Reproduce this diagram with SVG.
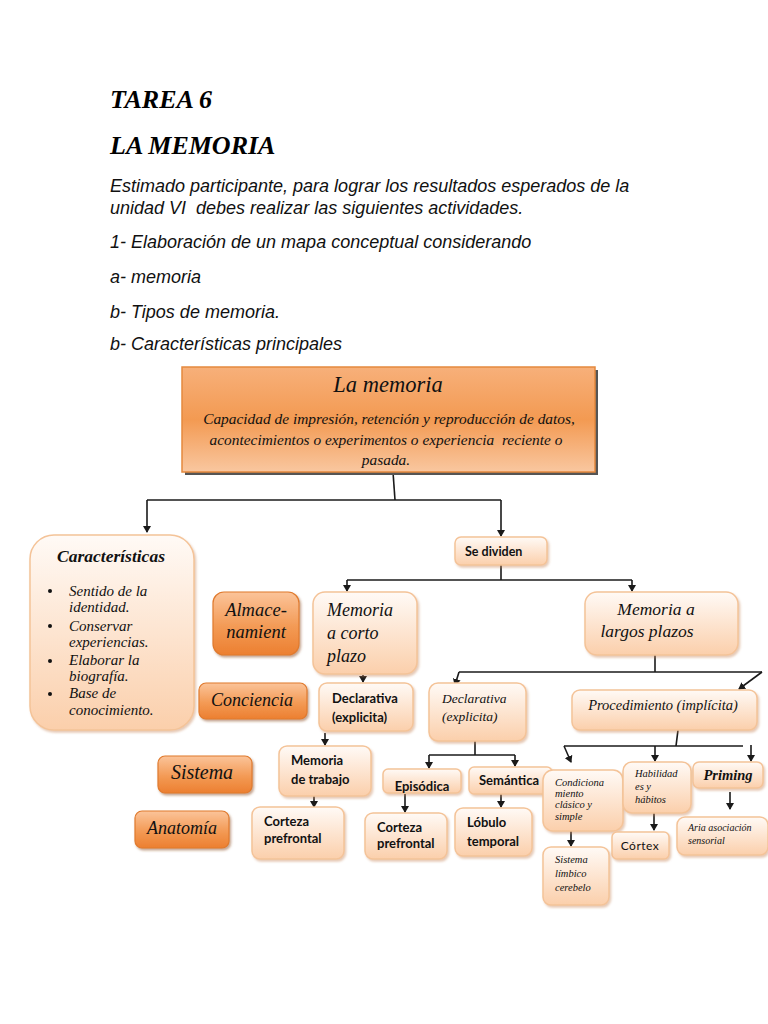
<svg xmlns="http://www.w3.org/2000/svg" width="768" height="1024" viewBox="0 0 768 1024">
<style>
.hd{font-family:"Liberation Serif",serif;font-weight:bold;font-style:italic;font-size:26px;fill:#000}
.it{font-family:"Liberation Sans",Arial,sans-serif;font-style:italic;font-size:18px;fill:#111}
.si{font-family:"Liberation Serif",serif;font-style:italic;fill:#111}
.sb{font-family:Lato,"Open Sans",sans-serif;font-weight:bold;fill:#111}
.peach{fill:url(#gPeach);stroke:#f4c398;stroke-width:1.5;filter:url(#sh)}
.orange{fill:url(#gOrange);stroke:#e07a2e;stroke-width:1.2;filter:url(#sh2)}
.ln{fill:none;stroke:#1a1a1a;stroke-width:1.6}
.ar{fill:none;stroke:#1a1a1a;stroke-width:1.6;marker-end:url(#ah)}
</style>
<defs>
<linearGradient id="gPeach" x1="0" y1="0" x2="0" y2="1">
<stop offset="0" stop-color="#fffaf6"/><stop offset="1" stop-color="#fbcfab"/>
</linearGradient>
<linearGradient id="gOrange" x1="0" y1="0" x2="0" y2="1">
<stop offset="0" stop-color="#fbc49a"/><stop offset="0.55" stop-color="#f39a55"/><stop offset="1" stop-color="#ec7f30"/>
</linearGradient>
<linearGradient id="gMain" x1="0" y1="0" x2="0" y2="1">
<stop offset="0" stop-color="#f7b07a"/><stop offset="0.5" stop-color="#f39a52"/><stop offset="1" stop-color="#f9c7a0"/>
</linearGradient>
<filter id="sh" x="-10%" y="-10%" width="125%" height="130%">
<feDropShadow dx="1.5" dy="2" stdDeviation="1.2" flood-color="#c8875a" flood-opacity="0.45"/>
</filter>
<filter id="sh2" x="-10%" y="-10%" width="125%" height="130%">
<feDropShadow dx="1.5" dy="2" stdDeviation="1" flood-color="#8a4a1a" flood-opacity="0.5"/>
</filter>
<marker id="ah" markerWidth="8" markerHeight="8" refX="6" refY="4" orient="auto" markerUnits="userSpaceOnUse" viewBox="0 0 8 8">
<path d="M0,0 L7,4 L0,8 Z" fill="#1a1a1a"/>
</marker>
<clipPath id="cEp"><rect x="383" y="769" width="78" height="24"/></clipPath>
</defs>

<g id="header">
<text class="hd" x="110" y="108">TAREA 6</text>
<text class="hd" x="110" y="154">LA MEMORIA</text>
<text class="it" x="110" y="192">Estimado participante, para lograr los resultados esperados de la</text>
<text class="it" x="110" y="214" xml:space="preserve">unidad VI  debes realizar las siguientes actividades.</text>
<text class="it" x="110" y="248">1- Elaboración de un mapa conceptual considerando</text>
<text class="it" x="110" y="283">a- memoria</text>
<text class="it" x="110" y="318">b- Tipos de memoria.</text>
<text class="it" x="110" y="350">b- Características principales</text>
</g>

<g id="connectors">
<polyline class="ln" points="393,472 395,500"/>
<polyline class="ar" points="147,500 147,532"/>
<polyline class="ln" points="147,500 501,500"/>
<polyline class="ar" points="501,500 501,536"/>
<polyline class="ln" points="501,565 501,580"/>
<polyline class="ln" points="347,580 632,580"/>
<polyline class="ar" points="347,580 347,591"/>
<polyline class="ar" points="632,580 632,591"/>
<polyline class="ln" points="655,655 655,672"/>
<polyline class="ln" points="459,672 762,672"/>
<polyline class="ar" points="459,672 455,685"/>
<polyline class="ar" points="762,672 739,689"/>
<polyline class="ar" points="363,675 363,682"/>
<polyline class="ar" points="325,733 325,745"/>
<polyline class="ar" points="314,796 314,807"/>
<polyline class="ln" points="475,741 475,755"/>
<polyline class="ln" points="429,755 515,755"/>
<polyline class="ar" points="429,755 429,768"/>
<polyline class="ar" points="515,755 515,766"/>
<polyline class="ar" points="405,794 405,812"/>
<polyline class="ar" points="501,794 501,807"/>
<polyline class="ln" points="678,730 676,746"/>
<polyline class="ln" points="564,746 743,746"/>
<polyline class="ar" points="564,746 571,762"/>
<polyline class="ar" points="655,746 655,761"/>
<polyline class="ar" points="751,745 751,761"/>
<polyline class="ar" points="730,792 730,809"/>
<polyline class="ar" points="654,813 654,830"/>
<polyline class="ar" points="571,831 571,846"/>
</g>

<g id="n-main">
<rect x="185" y="370" width="413" height="105" fill="#555"/>
<rect x="182" y="367" width="413" height="105" fill="url(#gMain)" stroke="#e5893e" stroke-width="1.5"/>
<text class="si" x="388" y="392" font-size="22.5" text-anchor="middle">La memoria</text>
<text class="si" x="389" y="424" font-size="15.4" text-anchor="middle">Capacidad de impresión, retención y reproducción de datos,</text>
<text class="si" x="386" y="445" font-size="15.4" text-anchor="middle" xml:space="preserve">acontecimientos o experimentos o experiencia  reciente o</text>
<text class="si" x="386" y="465" font-size="15.4" text-anchor="middle">pasada.</text>
</g>

<g id="n-caracteristicas">
<rect class="peach" x="30" y="535" width="164" height="195" rx="24"/>
<text class="si" x="111" y="562" font-size="17.5" font-weight="bold" text-anchor="middle">Características</text>
<g class="si" font-size="15">
<circle cx="50" cy="591" r="2" fill="#111"/><text x="69" y="596">Sentido de la</text>
<text x="69" y="612">identidad.</text>
<circle cx="50" cy="626" r="2" fill="#111"/><text x="69" y="631">Conservar</text>
<text x="69" y="647">experiencias.</text>
<circle cx="50" cy="661" r="2" fill="#111"/><text x="69" y="665">Elaborar la</text>
<text x="69" y="681">biografía.</text>
<circle cx="50" cy="694" r="2" fill="#111"/><text x="69" y="698">Base de</text>
<text x="69" y="715">conocimiento.</text>
</g>
</g>

<g id="n-sedividen">
<rect class="peach" x="455" y="537" width="92" height="28" rx="6"/>
<text class="sb" x="465" y="556" font-size="12.5">Se dividen</text>
</g>

<g id="n-almacenamiento">
<rect class="orange" x="213" y="592" width="86" height="63" rx="11"/>
<text class="si" x="256" y="616" font-size="18.5" text-anchor="middle">Almace-</text>
<text class="si" x="256" y="638" font-size="18.5" text-anchor="middle">namient</text>
</g>
<g id="n-conciencia">
<rect class="orange" x="199" y="683" width="108" height="36" rx="7"/>
<text class="si" x="252" y="706" font-size="18" text-anchor="middle">Conciencia</text>
</g>
<g id="n-sistema">
<rect class="orange" x="158" y="756" width="94" height="37" rx="7"/>
<text class="si" x="202" y="779" font-size="20" text-anchor="middle">Sistema</text>
</g>
<g id="n-anatomia">
<rect class="orange" x="135" y="811" width="94" height="37" rx="7"/>
<text class="si" x="182" y="834" font-size="18" text-anchor="middle">Anatomía</text>
</g>

<g id="n-corto">
<rect class="peach" x="313" y="592" width="104" height="82" rx="12"/>
<text class="si" x="327" y="616" font-size="18">Memoria</text>
<text class="si" x="327" y="639" font-size="18">a corto</text>
<text class="si" x="327" y="662" font-size="18">plazo</text>
</g>
<g id="n-largos">
<rect class="peach" x="585" y="592" width="153" height="63" rx="12"/>
<text class="si" x="656" y="615" font-size="17.5" text-anchor="middle">Memoria a</text>
<text class="si" x="647" y="637" font-size="17.5" text-anchor="middle">largos plazos</text>
</g>

<g id="n-decl1">
<rect class="peach" x="319" y="683" width="94" height="48" rx="8"/>
<text class="sb" x="332" y="703" font-size="13">Declarativa</text>
<text class="sb" x="332" y="722" font-size="13">(explicita)</text>
</g>
<g id="n-trabajo">
<rect class="peach" x="279" y="746" width="92" height="50" rx="8"/>
<text class="sb" x="291" y="765" font-size="13">Memoria</text>
<text class="sb" x="291" y="784" font-size="13">de trabajo</text>
</g>
<g id="n-corteza1">
<rect class="peach" x="252" y="807" width="92" height="52" rx="8"/>
<text class="sb" x="264" y="826" font-size="13">Corteza</text>
<text class="sb" x="264" y="843" font-size="13">prefrontal</text>
</g>

<g id="n-decl2">
<rect class="peach" x="429" y="683" width="97" height="58" rx="9"/>
<text class="si" x="442" y="703" font-size="13.5">Declarativa</text>
<text class="si" x="442" y="721" font-size="13.5">(explicita)</text>
</g>
<g id="n-episodica">
<rect class="peach" x="383" y="769" width="78" height="24" rx="5"/>
<text class="sb" x="422" y="791" font-size="13" text-anchor="middle" clip-path="url(#cEp)">Episódica</text>
</g>
<g id="n-semantica">
<rect class="peach" x="469" y="767" width="83" height="27" rx="5"/>
<text class="sb" x="479" y="785" font-size="13">Semántica</text>
</g>
<g id="n-corteza2">
<rect class="peach" x="365" y="813" width="82" height="46" rx="8"/>
<text class="sb" x="377" y="832" font-size="13">Corteza</text>
<text class="sb" x="377" y="848" font-size="13">prefrontal</text>
</g>
<g id="n-lobulo">
<rect class="peach" x="455" y="808" width="77" height="48" rx="8"/>
<text class="sb" x="467" y="827" font-size="13">Lóbulo</text>
<text class="sb" x="467" y="846" font-size="13">temporal</text>
</g>

<g id="n-proc">
<rect class="peach" x="572" y="690" width="185" height="40" rx="8"/>
<text class="si" x="663" y="710" font-size="14.5" text-anchor="middle">Procedimiento (implícita)</text>
</g>
<g id="n-condic">
<rect class="peach" x="543" y="770" width="80" height="61" rx="10"/>
<text class="si" x="555" y="786" font-size="10.5">Condiciona</text>
<text class="si" x="555" y="797" font-size="10.5">miento</text>
<text class="si" x="555" y="808" font-size="10.5">clásico y</text>
<text class="si" x="555" y="820" font-size="10.5">simple</text>
</g>
<g id="n-habil">
<rect class="peach" x="623" y="762" width="68" height="51" rx="9"/>
<text class="si" x="635" y="777" font-size="10.5">Habilidad</text>
<text class="si" x="635" y="790" font-size="10.5">es y</text>
<text class="si" x="635" y="803" font-size="10.5">hábitos</text>
</g>
<g id="n-priming">
<rect class="peach" x="693" y="762" width="70" height="26" rx="6"/>
<text class="si" x="728" y="780" font-size="14.5" font-weight="bold" text-anchor="middle">Priming</text>
</g>
<g id="n-aria">
<rect class="peach" x="677" y="817" width="91" height="38" rx="8"/>
<text class="si" x="688" y="831" font-size="10">Aria asociación</text>
<text class="si" x="688" y="844" font-size="10">sensorial</text>
</g>
<g id="n-cortex">
<rect class="peach" x="612" y="832" width="57" height="27" rx="5"/>
<text x="640" y="850" font-size="12" text-anchor="middle" style="font-family:Lato,'Open Sans',sans-serif;font-weight:normal;letter-spacing:0.5px;fill:#111">Córtex</text>
</g>
<g id="n-limbico">
<rect class="peach" x="543" y="847" width="66" height="58" rx="8"/>
<text class="si" x="555" y="863" font-size="10.5">Sistema</text>
<text class="si" x="555" y="877" font-size="10.5">límbico</text>
<text class="si" x="555" y="891" font-size="10.5">cerebelo</text>
</g>
</svg>
